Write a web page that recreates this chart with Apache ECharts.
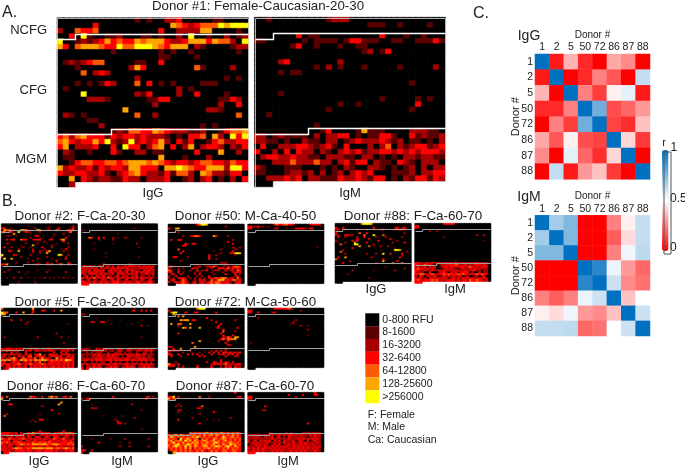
<!DOCTYPE html>
<html><head><meta charset="utf-8"><style>html,body{margin:0;padding:0;background:#fff}#c{width:685px;height:470px}</style>
<script src="https://cdn.jsdelivr.net/npm/echarts@6/dist/echarts.min.js"></script></head><body><div id="c"></div>
<script>
const levelColors=['#000000','#5a0000','#a80000','#ff0000','#ff5a00','#ffa500','#ffff00'];
const levelLabels=['0-800 RFU','8-1600','16-3200','32-6400','64-12800','128-25600','>256000'];
const donorLabels=['1','2','5','50','72','86','87','88'];
const donor1IgG="00000000000001010022300000110000 00000030000000000005432344465666 20043340000000000300222255000010 00306100112000110100206001002012 60012123534335455532235553544206 53045554336446665435550210000122 00000000010000000101001000000010 00000000000000000110000100000000 01212344000001100300000000000000 00010000000025300000000410000200 00004023200000000000000000000000 00000000000002000000000000001010 00010101320004030101000011100000 01000000000000000000201000000000 00006000000002130000200300001000 00000222100000011330000000011320 00000000000000002000000000020030 00000000000500000000000002210000 02101000000004002000000000000040 00000110000000000000000000000000 00000002000000000000000010100000 00000000012144335432221120013445 34245333132332322210103340520636 45323353621262323520313001342233 35022230030633024503025023320213 02100100031002201100000300050020 01100000000000000500010002000000 00134433443455545432332344332433 52322313233255333055654335552663 32233223102345322131442054221330 00503212211322022230012023010203 002";
const donor1IgM="00100000000012220000000000000000 00000000000000000001110010000100 0 00000003011000000000030001001000 11000000101111013311100110011131 00000013001000100110000000000000 00000000000000000012013000000000 0 00002300000000200000000000000000 00000000001020100010000010000020 00001011000000000000000000000000 0 00000000000000000000000000100000 0 00001000000000000000000000000000 00000000000000000000010000010100 00000000000000100100000000030000 00000000000010000000000000100000 00100000000000000000000000000000 0 00000000001000000000000000000000 00000000000130000151110000222110 22012111102022330101133100312112 22110100211022012322232120110102 03002223321231030002024021233123 30020303220210232312233232323332 02332232211022211022010102212211 00022242224220231330211032102220 21000111000101021002210101202022 11000122120201202323000111202233 00222323022111322321330102133132 000";
const donor2IgG="0 0000000000010000000010000000002 3300100000000020000110003000013 0544120055420006400120042001334 4402300600321000200000000000240 0000050000001000000000100020000 0012001000000023000000100000100 0000000000002000100001000003000 0030330043300233300023000450000 0000000000000000002000000030000 0021000000200002000100010000200 0000000010000500000002000000000 0300200002001000030002000000200 0001000200000200002000000103000 0003200500000300210350000020100 0000000000000100200500000000000 6000032000002000000000006500200 2000000020000000000200000002000 0600500000010002000001000003000 0000000000000200000000030000000 0000002000020000100200010000200 3350000000000023000334003500430 0 0 0002000000000001000010000000000 0200000200010000000200000002000 0000000000100000000000000000000 0 0010020020010010102010101020101 0 0000000100000010000000000000000 000";
const donor2IgM="0 0 0000000000000000000000100000000 1100000101001000010000000000000 0 0000000000000001000000000000000 0 0004300303000201002100000100000 0000000200000200000000000000000 0 0000010000000100000000020000000 0 0000000000000000000000001000000 0000010000000000000000000000000 0 0000000000100000000000000000000 0 0000000000100000000000001000000 0 0 0 0000000003000000000030000000000 2323220320231303223233323232323 3232323032322323232322222323232 2323032323023232302323222032323 3223323232023222322303232323322 2303232232322303232232230223223 0230203223022023022202230220202 3232342323243223232323232323232 2023022023202303202302220320230 3322232232322333223232233222332 333";
const donor50IgG="00000000000034665000000000000000 0000000000000000000000002000000 3105500000000000000000000000000 0 0010200000000000000000000000000 0 0000002002344300000530000200000 0 0300330000000000000000000002000 0000000000000000000000000300000 0000000310330000000000000003000 0000003300000000000000000000000 0000000000000000000000000002102 0000400000000000000000200000210 0000003000000000000100000003000 0000030000000000000000200032565 0000000000000000030020000000100 0033000020000000030000000000000 0000000000000000030020000000000 0000020000000000000000000000000 0000000000000000000000222000000 0000000000012002100020003000000 3420000000011300233421020313443 2000202000322000102003332423232 4300200002003021300222003023043 2300302000020200002000020002323 0230030000020300000200003000302 2003000020002020030000000000230 2020333202020202032343454223042 0330024300020323004225552324423 3023234320230232234344323320233 000";
const donor50IgM="00000000000343344332000000233330 3322312011000000000000000000000 3300100000023000101033332133000 0 0 0 0 0 0 0 0 0 00000000000000000000000000000100 0 0 0 0 0 0 0 0 0 0 0 0 0 0 0 0 0 0 000";
const donor88IgG="00000000000566650000000000000000 0000000000000000000000000000000 3003000000000000300000000230230 2300300003000300100330000334330 0000000000000000000000000000000 3000000000400300000000000000020 2200332200004000600040000000000 0300200002003000020002000000200 0000000003000030000000030000000 2000000303000000003000000020000 0100200050000300000000002000030 0040000066000000200000000000000 0000000000500040100200200000000 0000000300000000000000000100000 0002000000000000000100000665000 0040000000000000000000000000002 0000200000000200020060030000300 0000000000000000000000000000200 0300500000000002000000000003000 4000000000000000000030000000000 0000002000000000000050000030000 0003000000000000020000004000400 0 0000000000000000000001000000000 0000000000000000000000000000020 0000000200000000100000000200000 0 0000010000000000000000000000000 0 0000000000000010000000000000000 0 000";
const donor88IgM="00000000000033333000000000000000 3300000000000000000000000000000 3300000000000000000000000000000 0 0000002002000000000000000000000 0 0000000000000000000000000020020 0000000000001000000000000000000 0 0000000000000000000000000000010 0 0 0 0 0 0 0 0 0 0 0000000000000000010000000000000 3322232322323323232232232332323 3323433202032333343223222333232 2322303230123323323332343232333 3433232320012323220232232323222 3322322322323232323223223322022 3222003000233203230333302003022 3344323432334343334343233343433 2032032232023232322302200220230 3232203232323202323232323223232 3432333434232333323233243343323 333";
const donor5IgG="4000000000000500000000000000000 0000000000000300033000300500000 6440003005000300000000000000000 5500000000003000000000000000000 0 0000000000000000000000000000000 0000300020000000000000000000000 0000000000020000000000000000000 0000000000200000000000000000100 0 0 0 0 0000000000000000000000020000000 0 0200000000000002000000000200100 0000000000000000000000000000000 0 0000000000000000000000000020000 0 0 3233323233023322032232233222333 3343232300323033223233200232303 0000302000300000000000300303000 2322322320323033502033230232322 2302020323034023332023323302323 3032453024333240352320052323233 4545343254534354455434343436543 2300232302323032402033323233323 3333233432334323343233233232323 3033232322303232323223323232323 023";
const donor5IgM="0000000000000000000000100000000 0000000000000000000002300303030 0000000000000000000000000000000 2200000000000000000000000000000 0 0000001000000000000000000000000 0000000000010000100000000100000 0000320033000000000000000000000 0000000000001000000001000000000 0000000000000000000000000200100 0 0 0 0 0 0000000000000000000000000100000 0 0 0 0 0 2222003222322023220232322323232 2320232232302302320322023223232 0020202220020022202020020022020 2222232322232332322323233232222 2020222322232322020232232220220 2222223232223232222322223232222 2332323332333233333323323333223 0200202022003020200202020202020 3232232323232332323322322323232 2022232320223232022323202232322 303";
const donor72IgG="0000000000004666000000000000000 3000000000000000000000000000000 0466000300033000000030000000000 0050000000000000000000000000000 0000405000000000000000000000000 0000000000000000300000000000000 0000054550330000002000000000200 0000000000000000000030000000000 0500440005000000000000300000000 0000200000000000000003000000000 0000005405000500000023000000030 0000000000000000000000030000000 0000000000000000000000040000200 0000300000000000000000300000000 0000000000000000000000030003000 0000000000000000000000032430550 0000000000000000000000342444500 0000000000000500000002000300000 0000000000400000000000003000000 0000000000000000000000000320000 2300000000050000000000000000000 0030050000000000000000003000000 3232300003000001002030302000000 2000002000100100030303033232323 3300300030303020003002230323030 0300020000000303000000003000320 0 0000000000000000000000300000000 0002000000000000300320303203000 5220300000000000002333234222233 3330202000003000003000203230322 000";
const donor72IgM="0000000000033333343000000000000 3300000000000000000000200000000 3300300000230000000000000000000 0000000000000000000000000000000 0 0000200000000000000000000000000 0000000000000000000020000000000 0000000000000000000200000000000 0000000000000000001100000000000 0000000000000000000000200100000 0 0000000000000000000000000200000 0 0 0000000000000000000000000100000 0 0 0 0100000000000000000000000000000 0 0 0000000000010000000000000000000 0 0 0 0 0 0 0 0 0 000";
const donor86IgG="0 0000000000000000000000000000000 3040000000004330030045340033040 5000000000030000000000000000000 0 0000000000000000000000000500000 0003300000000000000000005000000 0000000000000000020000000000000 0 0000000000000000000003000000000 0 0020000000000000100000002000000 0400000000000000000000000000000 0 0000000000000100330000000000000 0000000000001020000000000000000 0 0 0 0 0000000000000000300000000030000 3333223030032533333330323434443 3232323233232320232323332323323 2022303223032023202320332023202 4324332334323232323222432342223 2333033230232232232233223233232 4343233433323433434343332333343 3223323354343555455434554333434 2323202322323322322332232322223 3232345443343555554555344345434 3323223333233223323333232223233 033";
const donor86IgM="0 0000000000000000000000000000000 0000000000000300000000000002302 2033000000000000000000000003000 0 0000000000000000000000000000000 0000100000000000000002000000000 0000000000000000000000000000000 0000222000000000000000000000000 0000000000000000000000000100000 0 0 0000000001000000010000000000000 0000000000000000000000200000000 0000000000000020000000000000000 0000000000000003000000000000000 0000000000000002302000000000000 0000000000000000000000000000000 0 0000000000000000000000000100000 0 0 0 0000000000000000000000000000000 0000100000001000002000000000200 0 0000000300000000100020000000000 0000000000000000000000000000000 2000000000000000200020000000200 0 3300200000000000000000000000000 200";
const donor87IgG="0000000000000000000000000000300 0000000000000000000000000000000 3360300000000400020000000000023 5340000000000000000000000000000 0 0 0000200000000000000000000000000 0002020000000040000000000000000 0000000000002300000000000000000 0000220000000000000000000000000 0000200000000000000300000000000 0000000000000200000000000000000 0000000000000000000000000000000 0000000000200000000000000020000 0000300000000000100101000000000 0000000000000000000000000000000 0000000000000300000000000000000 0 0 0 0000000000000000000000000000000 0000000004343434534343543434343 4345354343443435345354343435343 3643434343546434343343364345343 4343063454344043433543454343434 4534453645354345434534345343434 3463435343545343543564343454343 4345634465354345434534354364534 4356443635354345534465435643543 3434343535243434453434343534343 2434343434334343234343344334433 005";
const donor87IgM="0000000000000000000000000000300 0000000000000000030000030000330 3300000000000000000020000000000 3300000000000000000000000000000 0 0 0000000000000000000000000000000 0000000300000000000000000000000 0000000000000000000000000000000 0000002200000000000000000000000 0 0 0 0 0 0 0000000000000000000000000300000 0 0 0 0 0000000002000000202000022222222 3232322322322323233232322232323 2223220322302302032222222022322 2222222222322222232223232323232 3023032323032303222302320302322 2232322232222223222322323222232 0223232320232302232322323223222 2222322322323232322323232322323 3232323323232323232323232323232 2232323222323232223232323222322 333";
const corrIgG=[[1,.05,.35,.08,0,.33,.27,0],[.05,1,0,.08,.25,.17,0,.62],[.35,0,1,.25,.12,.47,.55,.05],[.08,.08,.25,1,.78,.15,.2,.3],[0,.25,.12,.78,1,.13,.09,.38],[.33,.17,.47,.15,.13,1,.42,.11],[.27,0,.55,.2,.09,.42,1,0],[0,.62,.05,.3,.38,.11,0,1]];
const corrIgM=[[1,.68,.75,0,0,.25,.47,.62],[.68,1,.75,0,0,.18,.43,.62],[.75,.75,1,0,0,.25,.53,.63],[0,0,0,1,.92,.54,.3,.2],[0,0,0,.92,1,.6,.27,.22],[.25,.18,.25,.54,.6,1,.38,.5],[.47,.43,.53,.3,.27,.38,1,.6],[.62,.62,.63,.2,.22,.5,.6,1]];
const upperBoundary=[[0,4],[3,4],[3,3],[32,3]];
const lowerBoundary=[[0,22],[9,22],[9,21],[32,21]];
const panelOutline=[[0,0],[32,0],[32,31],[3,31],[3,32],[0,32],[0,0]];

const FONT='"Liberation Sans",Arial,sans-serif';
const grid=[],xAxis=[],yAxis=[],series=[],discrete=[],continuous=[];
const idx=Array.from({length:32},(_,i)=>i);
function pathSeries(g,d,col,lw){
  return {type:'custom',coordinateSystem:'cartesian2d',xAxisIndex:g,yAxisIndex:g,data:d,encode:{x:0,y:1},clip:false,silent:true,animation:false,z:5,
    renderItem(params,api){
      if(params.dataIndex!==0)return null;
      const points=d.map(p=>{const q=api.coord(p);return [Math.round(q[0])+0.5,Math.round(q[1])+0.5];});
      return {type:'polyline',shape:{points},style:{stroke:col,lineWidth:lw,fill:null}};
    }};
}
function panel(str,x,y,w,h,lineColor,lineWidth,outline){
  const rows=str.split(' '),data=[];
  rows.forEach((row,r)=>{
    const s=r<31?row.padEnd(32,'0'):row;
    for(let c=0;c<Math.min(32,s.length);c++){
      const v=+s[c];
      data.push({value:[c,r,v],itemStyle:{borderColor:levelColors[v],borderWidth:0.5}});
    }
  });
  let g=grid.length;
  grid.push({left:x,top:y,width:w,height:h});
  xAxis.push({type:'category',gridIndex:g,data:idx,show:false});
  yAxis.push({type:'category',gridIndex:g,data:idx,inverse:true,show:false});
  discrete.push(series.length);
  series.push({type:'heatmap',xAxisIndex:g,yAxisIndex:g,data,progressive:0,silent:true,animation:false});
  g=grid.length;
  grid.push({left:x,top:y,width:w,height:h});
  xAxis.push({type:'value',gridIndex:g,min:0,max:32,show:false});
  yAxis.push({type:'value',gridIndex:g,min:0,max:32,inverse:true,show:false});
  if(outline)series.push(pathSeries(g,panelOutline,'#d8d8d8',0.8));
  series.push(pathSeries(g,upperBoundary,lineColor,lineWidth));
  series.push(pathSeries(g,lowerBoundary,lineColor,lineWidth));
}
function corr(mat,top,h){
  const g=grid.length,data=[];
  mat.forEach((row,r)=>row.forEach((v,c)=>data.push([c,r,v])));
  grid.push({left:535,top,width:115,height:h});
  const lab={fontSize:10.5,color:'#222',fontFamily:FONT,interval:0};
  xAxis.push({type:'category',gridIndex:g,position:'top',data:donorLabels,axisLine:{show:false},axisTick:{show:false},axisLabel:{...lab,margin:1},splitLine:{show:false},
    name:'Donor #',nameLocation:'middle',nameGap:14,nameMoveOverlap:false,nameTextStyle:{fontSize:10,color:'#222',fontFamily:FONT}});
  yAxis.push({type:'category',gridIndex:g,inverse:true,data:donorLabels,axisLine:{show:false},axisTick:{show:false},axisLabel:{...lab,margin:2},splitLine:{show:false},
    name:'Donor #',nameLocation:'middle',nameRotate:90,nameGap:14,nameMoveOverlap:false,nameTextStyle:{fontSize:11,color:'#222',fontFamily:FONT}});
  continuous.push(series.length);
  series.push({type:'heatmap',xAxisIndex:g,yAxisIndex:g,data,progressive:0,silent:true,animation:false});
}
panel(donor1IgG,57.3,18,191,169,'#ffffff',1.4,true);
panel(donor1IgM,254.7,17.5,190.6,169,'#ffffff',1.4,true);
const SL='#a0a0a0',SW=1;
panel(donor2IgG,1.5,224,75.7,61,SL,SW);panel(donor2IgM,81.7,224,75.7,61,SL,SW);
panel(donor50IgG,168.3,224.3,75.7,61,SL,SW);panel(donor50IgM,248,224.3,75.7,61,SL,SW);
panel(donor88IgG,335.3,223.6,75.7,59.5,SL,SW);panel(donor88IgM,415,223.6,75.7,59.5,SL,SW);
panel(donor5IgG,1.5,308.3,75.7,61,SL,SW);panel(donor5IgM,81.7,308.3,75.7,61,SL,SW);
panel(donor72IgG,168.3,308.3,75.7,61,SL,SW);panel(donor72IgM,248,308.3,75.7,61,SL,SW);
panel(donor86IgG,1.5,392.6,75.7,61,SL,SW);panel(donor86IgM,81.7,392.6,75.7,61,SL,SW);
panel(donor87IgG,168.3,392.6,75.7,61,SL,SW);panel(donor87IgM,248,392.6,75.7,61,SL,SW);
corr(corrIgG,54,125.3);corr(corrIgM,215.3,120.7);

function t(text,x,cy,fs,align){
  return {text,left:x,top:cy-fs/2-0.5,padding:0,textAlign:align||'center',textStyle:{fontSize:fs,fontWeight:'normal',color:'#222',fontFamily:FONT,lineHeight:fs+1}};
}
const title=[
 t('Donor #1: Female-Caucasian-20-30',258,6.5,13.3),
 t('A.',2,12.5,16,'left'),t('B.',2,201.5,16,'left'),t('C.',473,13.5,16,'left'),
 t('NCFG',47,30,13,'right'),t('CFG',47,90,13,'right'),t('MGM',47,159,13,'right'),
 t('IgG',153,193,13),t('IgM',350,193,13),
 t('Donor #2: F-Ca-20-30',80,216,13.4),t('Donor #50: M-Ca-40-50',245.5,216,13.4),t('Donor #88: F-Ca-60-70',413,216,13.4),
 t('IgG',376,289,13),t('IgM',455,289,13),
 t('Donor #5: F-Ca-20-30',80,302,13.4),t('Donor #72: M-Ca-50-60',245.5,302,13.4),
 t('Donor #86: F-Ca-60-70',76,386.7,13.4),t('Donor #87: F-Ca-60-70',245,386.7,13.4),
 t('IgG',39,461.7,13),t('IgM',122,461.7,13),t('IgG',208,461.7,13),t('IgM',288,461.7,13),
 t('F: Female',367.7,415,10.5,'left'),t('M: Male',367.7,427.5,10.5,'left'),t('Ca: Caucasian',367.7,440,10.5,'left'),
 t('IgG',529,36,14),t('IgM',529,196.7,14),
 t('r',664,143,11),t('1',670.5,148,12,'left'),t('0.5',670,199,12,'left'),t('0',670,248,12,'left')
];
const chart=echarts.init(document.getElementById('c'),null,{renderer:'canvas'});
chart.setOption({
 animation:false,backgroundColor:'#fff',tooltip:{show:false},
 title,grid,xAxis,yAxis,series,
 visualMap:[
  {type:'piecewise',seriesIndex:discrete,dimension:2,left:365.3,top:313.3,padding:0,itemWidth:14,itemHeight:12.85,itemGap:0,textGap:3,align:'left',itemSymbol:'rect',inverse:true,selectedMode:false,hoverLink:false,
   textStyle:{fontSize:10.5,color:'#222',fontFamily:FONT},
   pieces:levelColors.map((color,i)=>({value:i,label:levelLabels[i],color,symbol:'rect'}))},
  {type:'continuous',seriesIndex:continuous,dimension:2,min:0,max:1,left:662,top:150,padding:0,itemWidth:6.5,itemHeight:101,calculable:false,hoverLink:false,text:null,showLabel:false,
   inRange:{color:['#ff0000','#ffffff','#0070c0']}}
 ],
 graphic:[{type:'rect',left:661.5,top:149.5,shape:{width:7,height:102},style:{fill:'none',stroke:'#555',lineWidth:1},silent:true,z:100}]
});
</script></body></html>
